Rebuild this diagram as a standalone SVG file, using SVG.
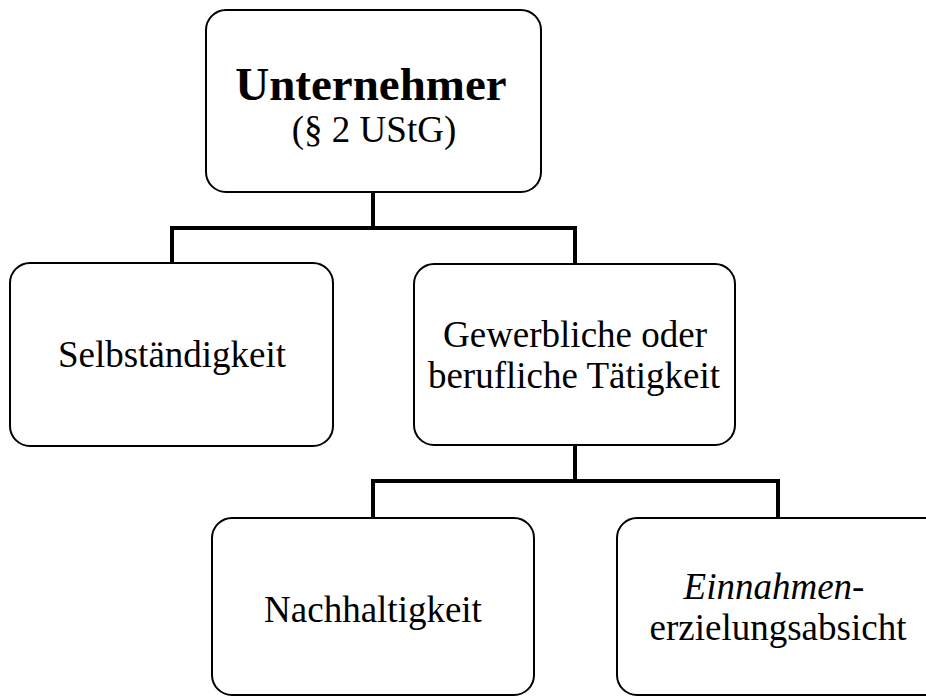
<svg xmlns="http://www.w3.org/2000/svg" width="926" height="697" viewBox="0 0 926 697">
  <style>
    .box { fill: #ffffff; stroke: #000000; stroke-width: 2; }
    .link { fill: none; stroke: #000000; stroke-width: 4; stroke-linejoin: miter; stroke-linecap: square; }
    .t { font-family: 'Liberation Serif', serif; fill: #000000; text-anchor: middle; }
    .title { font-size: 47px; font-weight: bold; }
    .label { font-size: 37px; }
  </style>
  <rect width="926" height="697" fill="#ffffff"/>

  <!-- tree connectors -->
  <g id="connectors">
    <path class="link" d="M373,193 V228 M172,228 H575 M172,228 V263 M575,228 V264"/>
    <path class="link" d="M575,446 V481 M373,481 H778 M373,481 V517 M778,481 V517"/>
  </g>

  <g id="unternehmer">
    <rect class="box" x="206" y="10" width="335" height="182" rx="20"/>
    <text class="t title" x="371" y="100">Unternehmer</text>
    <text class="t label" x="374" y="142">(§ 2 UStG)</text>
  </g>

  <g id="selbstaendigkeit">
    <rect class="box" x="10" y="263" width="323" height="183" rx="20"/>
    <text class="t label" x="172" y="367">Selbständigkeit</text>
  </g>

  <g id="taetigkeit">
    <rect class="box" x="414" y="264" width="321" height="181" rx="20"/>
    <text class="t label" x="575" y="347">Gewerbliche oder</text>
    <text class="t label" x="574" y="388">berufliche Tätigkeit</text>
  </g>

  <g id="nachhaltigkeit">
    <rect class="box" x="212" y="518" width="322" height="177" rx="20"/>
    <text class="t label" x="373" y="622">Nachhaltigkeit</text>
  </g>

  <g id="einnahmenerzielungsabsicht">
    <rect class="box" x="617" y="518" width="340" height="177" rx="20"/>
    <text class="t label" x="774" y="599"><tspan font-style="italic">Einnahmen</tspan>-</text>
    <text class="t label" x="778" y="640">erzielungsabsicht</text>
  </g>
</svg>
